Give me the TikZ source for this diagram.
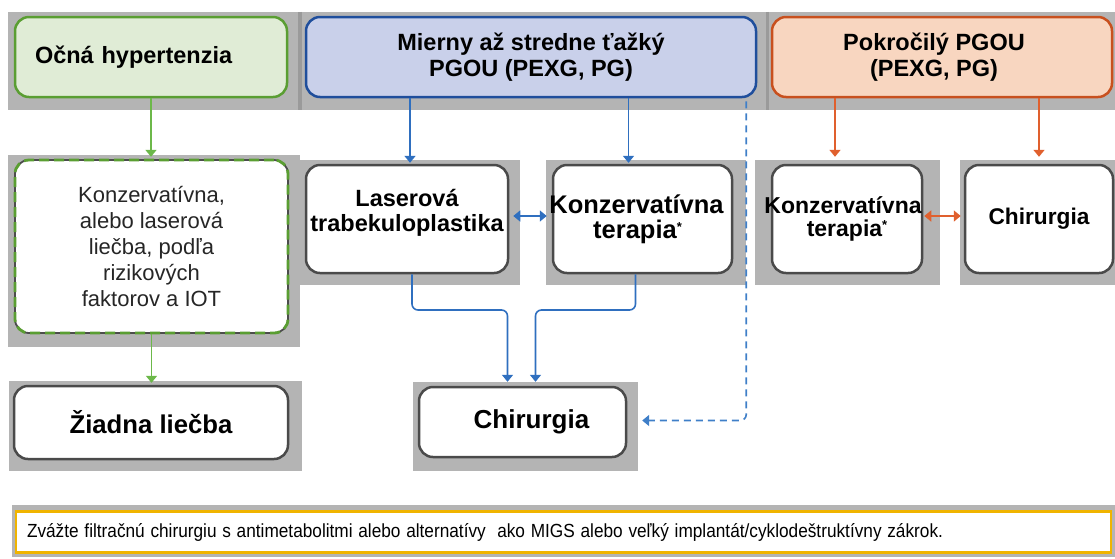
\documentclass[tikz,border=0pt]{standalone}
\usepackage{fontspec}
\usepackage{graphicx}
\setmainfont{Liberation Sans}
\usetikzlibrary{arrows.meta,calc}

\definecolor{bandgray}{HTML}{B4B4B4}
\definecolor{sepgray}{HTML}{9A9A9A}
\definecolor{greenfill}{HTML}{E0ECD6}
\definecolor{greenline}{HTML}{5A9E32}
\definecolor{greenconn}{HTML}{6CB84A}
\definecolor{bluefill}{HTML}{C9D0EA}
\definecolor{blueline}{HTML}{1F4E9C}
\definecolor{blueconn}{HTML}{2F6FBF}
\definecolor{dashconn}{HTML}{3F7FC8}
\definecolor{orangefill}{HTML}{F8D6C0}
\definecolor{orangeline}{HTML}{C8501E}
\definecolor{orangeconn}{HTML}{E0602E}
\definecolor{boxline}{HTML}{4A4A4A}
\definecolor{gold}{HTML}{F0B400}

\newcommand{\setfs}[2]{\fontsize{#1pt}{#2pt}\selectfont}
% small raised asterisk after "terapia"
\newcommand{\starmark}{\raisebox{7pt}{\setfs{13}{13}*}}

\tikzset{
  bg/.style={rectangle, fill=bandgray, draw=none, inner sep=0pt},
  headbox/.style={rectangle, rounded corners=14pt, line width=2.5pt, inner sep=0pt,
    align=center, font=\bfseries\setfs{23.5}{26}},
  whitebox/.style={rectangle, rounded corners=14pt, line width=2.5pt, draw=boxline,
    fill=white, inner sep=0pt, align=center},
  conn/.style={line width=1.6pt, -{Triangle[width=11pt,length=7pt]}},
  twoway/.style={line width=1.6pt,
    {Triangle[width=11pt,length=7pt]}-{Triangle[width=11pt,length=7pt]}},
}

\begin{document}
\begin{tikzpicture}[x=1pt,y=-1pt]
\useasboundingbox (0,0) rectangle (1115,558);

% ---- header band ----
\node[bg, minimum width=292pt, minimum height=98pt] (band1) at (154,61) {};
\node[bg, minimum width=467pt, minimum height=98pt] (band2) at (533.5,61) {};
\node[bg, minimum width=348pt, minimum height=98pt] (band3) at (941,61) {};
\draw[sepgray, line width=4pt] (band1.north east) -- (band1.south east);
\draw[sepgray, line width=3pt] (band2.north east) -- (band2.south east);

\node[headbox, draw=greenline, fill=greenfill, minimum width=272pt, minimum height=80pt,
      text width=232pt, align=left, inner xsep=20pt] (ocular) at (151,57) {Očná hypertenzia};
\node[headbox, draw=blueline, fill=bluefill, minimum width=450pt, minimum height=80pt]
      (moderate) at (531,57) {Mierny až stredne ťažký\\PGOU (PEXG, PG)};
\node[headbox, draw=orangeline, fill=orangefill, minimum width=340pt, minimum height=80pt]
      (advanced) at (942,57) {Pokročilý PGOU\hspace*{16pt}\\(PEXG, PG)\hspace*{16pt}};

% ---- second row ----
\node[bg, minimum width=292pt, minimum height=192pt] (optbg) at (154,251) {};
\node[whitebox, draw=black!70, line width=1.8pt, minimum width=273pt, minimum height=173pt,
      text=black!85, font=\setfs{22}{25.8},
      postaction={draw=greenline, line width=2.8pt, dash pattern=on 10pt off 5pt}]
      (options) at (151.5,246.5)
      {Konzervatívna,\\alebo laserová\\liečba, podľa\\rizikových\\faktorov a IOT};

\node[bg, minimum width=220pt, minimum height=125pt] (laserbg) at (410,222.5) {};
\node[whitebox, minimum width=202pt, minimum height=108pt, font=\bfseries\setfs{23.5}{25}]
      (laser) at (407,219) {Laserová\\trabekuloplastika\rule[-17pt]{0pt}{1pt}};

\node[bg, minimum width=200pt, minimum height=125pt] (consbg) at (646,222.5) {};
\node[whitebox, minimum width=179pt, minimum height=108pt, font=\bfseries\setfs{25.5}{25}]
      (cons) at (642.5,219) {\makebox[0pt]{Konzervatívna\hspace*{12pt}}\\terapia\starmark\hspace*{10pt}};

\node[bg, minimum width=185pt, minimum height=125pt] (advconsbg) at (847.5,222.5) {};
\node[whitebox, minimum width=150pt, minimum height=108pt, font=\bfseries\setfs{23}{22.5}]
      (advcons) at (847,219) {\makebox[0pt]{Konzervatívna\hspace*{8pt}}\\terapia\starmark};

\node[bg, minimum width=155pt, minimum height=125pt] (advsurgbg) at (1037.5,222.5) {};
\node[whitebox, minimum width=148pt, minimum height=108pt, font=\bfseries\setfs{22.7}{25}]
      (advsurg) at (1039,219) {Chirurgia};

% ---- third row ----
\node[bg, minimum width=293pt, minimum height=90pt] (nonebg) at (155.5,426) {};
\node[whitebox, minimum width=274pt, minimum height=73pt, font=\bfseries\setfs{25.7}{28}]
      (none) at (151,422.5) {Žiadna liečba};

\node[bg, minimum width=225pt, minimum height=89pt] (surgbg) at (525.5,426.5) {};
\node[whitebox, minimum width=207pt, minimum height=70pt, font=\bfseries\setfs{26}{28}]
      (surg) at (522.5,422) {\hspace*{18pt}Chirurgia};

% ---- note ----
\node[bg, minimum width=1103pt, minimum height=52pt] (notebg) at (563.5,531) {};
\node[rectangle, draw=gold, line width=2.5pt, fill=white, minimum width=1095pt,
      minimum height=41pt, inner xsep=11pt, inner ysep=0pt, text width=1073pt, align=left,
      font=\setfs{19}{20}] (note) at (563.5,532)
      {\resizebox{916pt}{\height}{Zvážte filtračnú chirurgiu s antimetabolitmi alebo alternatívy\ \ ako MIGS alebo veľký implantát/cyklodeštruktívny zákrok.}};

% ---- connectors ----
\coordinate (merge) at (0,310);
\coordinate (consin) at ($(cons.north)+(-14,0)$);
\coordinate (lasout) at ($(laser.south)+(5,0)$);
\coordinate (consout) at ($(cons.south)+(-7,0)$);
\coordinate (surgin1) at ($(surgbg.north)+(-18,0)$);
\coordinate (surgin2) at ($(surgbg.north)+(10,0)$);
\coordinate (dashstart) at ($(moderate.south east)+(-11,3)$);
\coordinate (dashend) at ($(surgbg.east)+(4,-6)$);
\coordinate (advin) at ($(advcons.north)+(-12,0)$);

\draw[conn, greenconn] (ocular.south) -- ($(ocular.south |- optbg.north)+(0,2)$);
\draw[conn, greenconn] (options.south) -- ($(options.south |- nonebg.north)+(0,2)$);

\draw[conn, blueconn] (laserbg.north |- moderate.south) -- ($(laserbg.north)+(0,3)$);
\draw[conn, blueconn] (consin |- moderate.south) -- ($(consin |- consbg.north)+(0,3)$);
\draw[twoway, blueconn] ($(laser.east)+(4,-3)$) -- ($(cons.west)+(-5,-3)$);
\draw[conn, blueconn, rounded corners=6pt] (lasout) -- (lasout |- merge) -| (surgin1);
\draw[conn, blueconn, rounded corners=6pt] (consout) -- (consout |- merge) -| (surgin2);
\draw[conn, dashconn, dash pattern=on 7pt off 5pt, rounded corners=6pt]
      (dashstart) |- (dashend);

\draw[conn, orangeconn] (advin |- advanced.south) -- ($(advin |- advconsbg.north)+(0,-3)$);
\draw[conn, orangeconn] (advsurg.north |- advanced.south) -- ($(advsurg.north |- advsurgbg.north)+(0,-3)$);
\draw[twoway, orangeconn] ($(advcons.east)+(1,-3)$) -- ($(advsurg.west)+(-3,-3)$);
\end{tikzpicture}
\end{document}
